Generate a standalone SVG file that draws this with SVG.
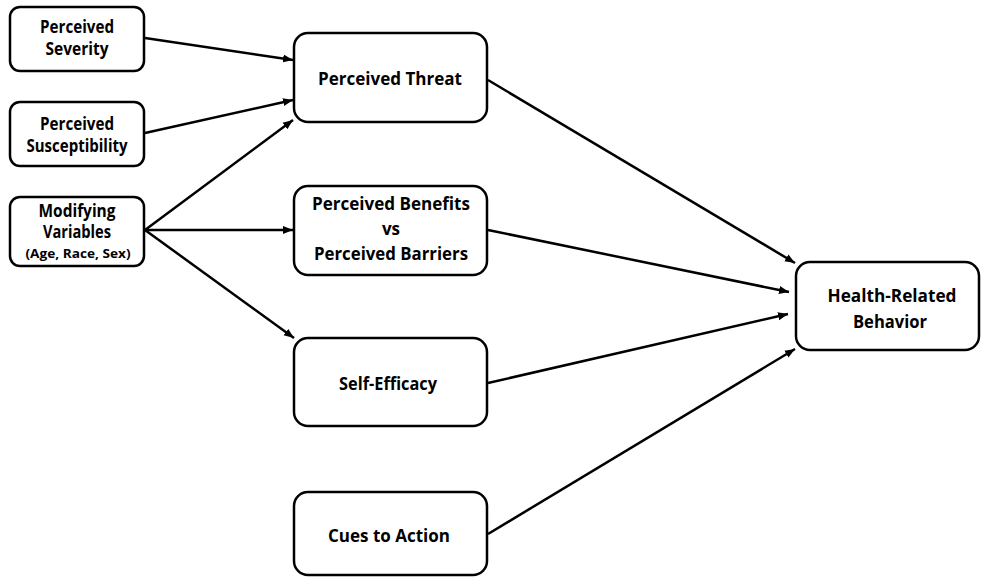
<svg xmlns="http://www.w3.org/2000/svg" width="981" height="577" viewBox="0 0 981 577">
<defs>
<marker id="ah" viewBox="0 0 10 10" refX="10" refY="5" markerWidth="10" markerHeight="10" markerUnits="userSpaceOnUse" orient="auto">
<path d="M0,1 L10,5 L0,9 z" fill="#000"/>
</marker>
<style>
.box{fill:#fff;stroke:#000;stroke-width:2.5}
.t{font-family:"Open Sans","Liberation Sans",sans-serif;font-weight:bold;font-size:17px;text-anchor:middle;fill:#000}
.s{font-family:"Open Sans","Liberation Sans",sans-serif;font-weight:bold;font-size:12.5px;text-anchor:middle;fill:#000}
.c{stroke:#000;stroke-width:2.5;fill:none;marker-end:url(#ah)}
</style>
</defs>
<rect width="981" height="577" fill="#fff"/>
<g id="connectors">
<line class="c" x1="145" y1="38" x2="293" y2="60"/>
<line class="c" x1="145" y1="133" x2="293" y2="100"/>
<line class="c" x1="145" y1="230" x2="293" y2="120"/>
<line class="c" x1="145" y1="230" x2="293" y2="230"/>
<line class="c" x1="145" y1="230" x2="294" y2="338"/>
<line class="c" x1="488" y1="80" x2="795" y2="263"/>
<line class="c" x1="488" y1="230" x2="789" y2="292"/>
<line class="c" x1="488" y1="383" x2="788" y2="314"/>
<line class="c" x1="488" y1="534" x2="795" y2="349"/>
</g>
<g id="severity">
<rect class="box" x="10" y="7" width="134" height="64" rx="10"/>
<text class="t" x="77" y="33" textLength="74" lengthAdjust="spacingAndGlyphs">Perceived</text>
<text class="t" x="77" y="55" textLength="63" lengthAdjust="spacingAndGlyphs">Severity</text>
</g>
<g id="susceptibility">
<rect class="box" x="10" y="102" width="134" height="64" rx="10"/>
<text class="t" x="77" y="130" textLength="74" lengthAdjust="spacingAndGlyphs">Perceived</text>
<text class="t" x="77" y="152" textLength="101" lengthAdjust="spacingAndGlyphs">Susceptibility</text>
</g>
<g id="modifying">
<rect class="box" x="10" y="197" width="134" height="69" rx="10"/>
<text class="t" x="77" y="217" textLength="77" lengthAdjust="spacingAndGlyphs">Modifying</text>
<text class="t" x="77" y="238" textLength="68" lengthAdjust="spacingAndGlyphs">Variables</text>
<text class="s" x="78" y="258" textLength="105" lengthAdjust="spacingAndGlyphs">(Age, Race, Sex)</text>
</g>
<g id="threat">
<rect class="box" x="294" y="33" width="193" height="89" rx="14"/>
<text class="t" x="390" y="85" textLength="144" lengthAdjust="spacingAndGlyphs">Perceived Threat</text>
</g>
<g id="benefits">
<rect class="box" x="294" y="186" width="193" height="89" rx="14"/>
<text class="t" x="391" y="210" textLength="158" lengthAdjust="spacingAndGlyphs">Perceived Benefits</text>
<text class="t" x="391" y="235">vs</text>
<text class="t" x="391" y="260" textLength="154" lengthAdjust="spacingAndGlyphs">Perceived Barriers</text>
</g>
<g id="selfefficacy">
<rect class="box" x="294" y="338" width="193" height="88" rx="14"/>
<text class="t" x="388" y="390" textLength="98" lengthAdjust="spacingAndGlyphs">Self-Efficacy</text>
</g>
<g id="cues">
<rect class="box" x="294" y="492" width="193" height="83" rx="14"/>
<text class="t" x="389" y="542" textLength="122" lengthAdjust="spacingAndGlyphs">Cues to Action</text>
</g>
<g id="behavior">
<rect class="box" x="796" y="262" width="183" height="88" rx="14"/>
<text class="t" x="892" y="302" textLength="129" lengthAdjust="spacingAndGlyphs">Health-Related</text>
<text class="t" x="890" y="328" textLength="74" lengthAdjust="spacingAndGlyphs">Behavior</text>
</g>
</svg>
